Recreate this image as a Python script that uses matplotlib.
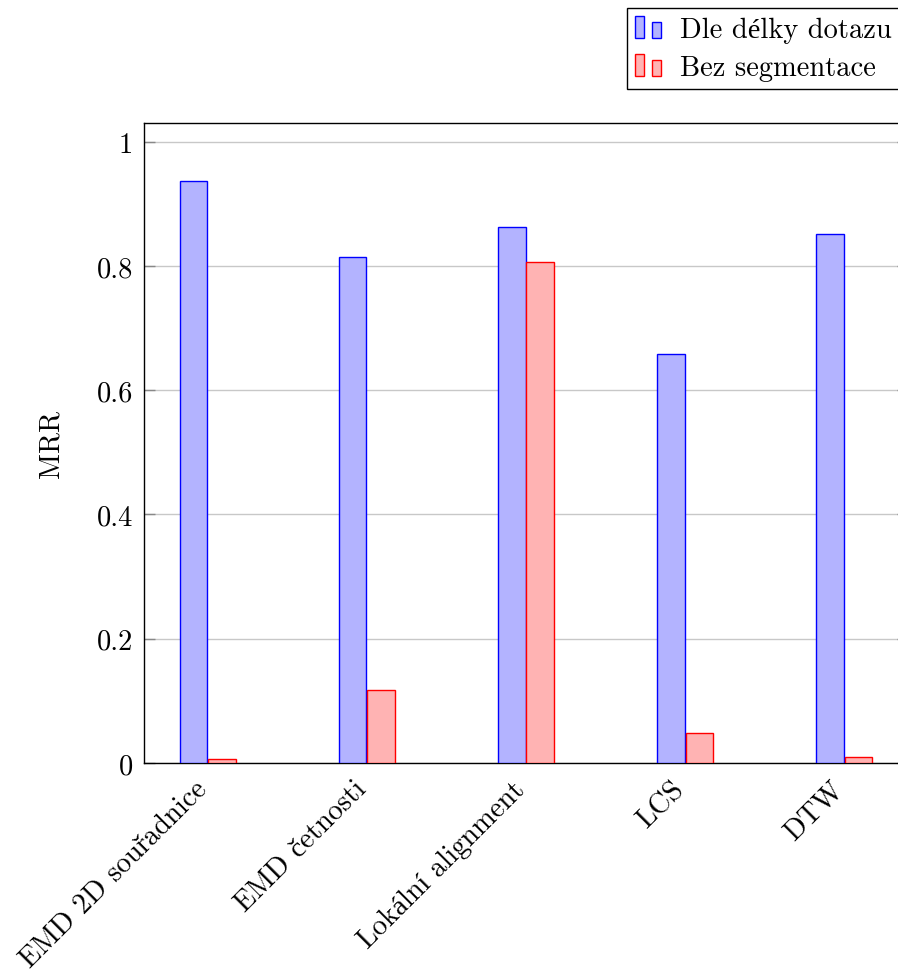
import numpy as np
import matplotlib
matplotlib.use('Agg')
import matplotlib.pyplot as plt
from matplotlib.patches import Rectangle
from matplotlib.legend_handler import HandlerBase
from matplotlib.transforms import ScaledTranslation

plt.rcParams['font.family'] = ['cmr10', 'Liberation Serif']
plt.rcParams['mathtext.fontset'] = 'cm'
plt.rcParams['axes.formatter.use_mathtext'] = True

# ==== data
methods = ['EMD 2D souřadnice', 'EMD četnosti', 'Lokální alignment', 'LCS', 'DTW']
dle_delky = [0.937, 0.815, 0.863, 0.659, 0.852]      # Dle délky dotazu
bez_segm = [0.006, 0.118, 0.807, 0.049, 0.009]       # Bez segmentace
yticks = [0, 0.2, 0.4, 0.6, 0.8, 1]
ytick_labels = ['0', '0.2', '0.4', '0.6', '0.8', '1']

BLUE_FILL, BLUE_EDGE = '#b3b3ff', '#0000ff'
RED_FILL, RED_EDGE = '#ffb3b3', '#ff0000'
FS = 20.5


class TwoBarHandler(HandlerBase):
    # pgfplots style ybar legend image: two small bars
    def create_artists(self, legend, orig, xdescent, ydescent, width, height, fontsize, trans):
        fc, ec = orig.get_facecolor(), orig.get_edgecolor()
        x0, y0 = -xdescent, -ydescent
        r1 = Rectangle((x0, y0), 0.33 * width, height, facecolor=fc, edgecolor=ec, lw=1.0, transform=trans)
        r2 = Rectangle((x0 + 0.65 * width, y0), 0.35 * width, 0.73 * height, facecolor=fc, edgecolor=ec, lw=1.0, transform=trans)
        return [r1, r2]


W, H = 898, 970
fig = plt.figure(figsize=(W / 100, H / 100), dpi=100)
ax = fig.add_axes([144 / W, (H - 764) / H, (908 - 144) / W, (764 - 124) / H])

x = np.arange(len(methods))
bw = 0.172
ax.bar(x - bw / 2 - 0.003, dle_delky, bw, color=BLUE_FILL, edgecolor=BLUE_EDGE, lw=1.0, zorder=3)
ax.bar(x + bw / 2 + 0.003, bez_segm, bw, color=RED_FILL, edgecolor=RED_EDGE, lw=1.0, zorder=3)

ax.set_xlim(-0.4, 4.4)
ax.set_ylim(0, 1.03)
ax.set_yticks(yticks)
ax.set_yticklabels(ytick_labels)
ax.grid(axis='y', color='#c8c8c8', lw=1.0, zorder=0)
ax.tick_params(axis='y', direction='in', length=8, width=1.0, color='#888888', labelsize=FS, pad=8, right=True)
ax.tick_params(axis='x', length=0, labelsize=FS, pad=9)

# rotated labels anchored north east, like pgfplots
ax.set_xticks(x)
ax.set_xticklabels(methods, rotation=45, ha='right', va='top', rotation_mode='anchor')
offset = ScaledTranslation(-14 / 100, 0, fig.dpi_scale_trans)
for lbl in ax.get_xticklabels():
    lbl.set_transform(lbl.get_transform() + offset)

for s in ax.spines.values():
    s.set_linewidth(1.0)
    s.set_color('black')

ax.set_ylabel('MRR', fontsize=FS)
ax.yaxis.set_label_coords((64 - 144) / (908 - 144), 0.5)

h1 = Rectangle((0, 0), 1, 1, facecolor=BLUE_FILL, edgecolor=BLUE_EDGE)
h2 = Rectangle((0, 0), 1, 1, facecolor=RED_FILL, edgecolor=RED_EDGE)
leg = ax.legend(handles=[h1, h2], labels=['Dle délky dotazu', 'Bez segmentace'],
                handler_map={Rectangle: TwoBarHandler()},
                loc='upper left', bbox_to_anchor=(627 / W, 1 - 9 / H), bbox_transform=fig.transFigure,
                fontsize=FS, frameon=True, fancybox=False, framealpha=1, edgecolor='black',
                handlelength=0.93, handleheight=0.84, handletextpad=0.65, labelspacing=0.38,
                borderpad=0.28, borderaxespad=0)
leg.get_frame().set_linewidth(1.0)

fig.savefig('out.png', dpi=100)
